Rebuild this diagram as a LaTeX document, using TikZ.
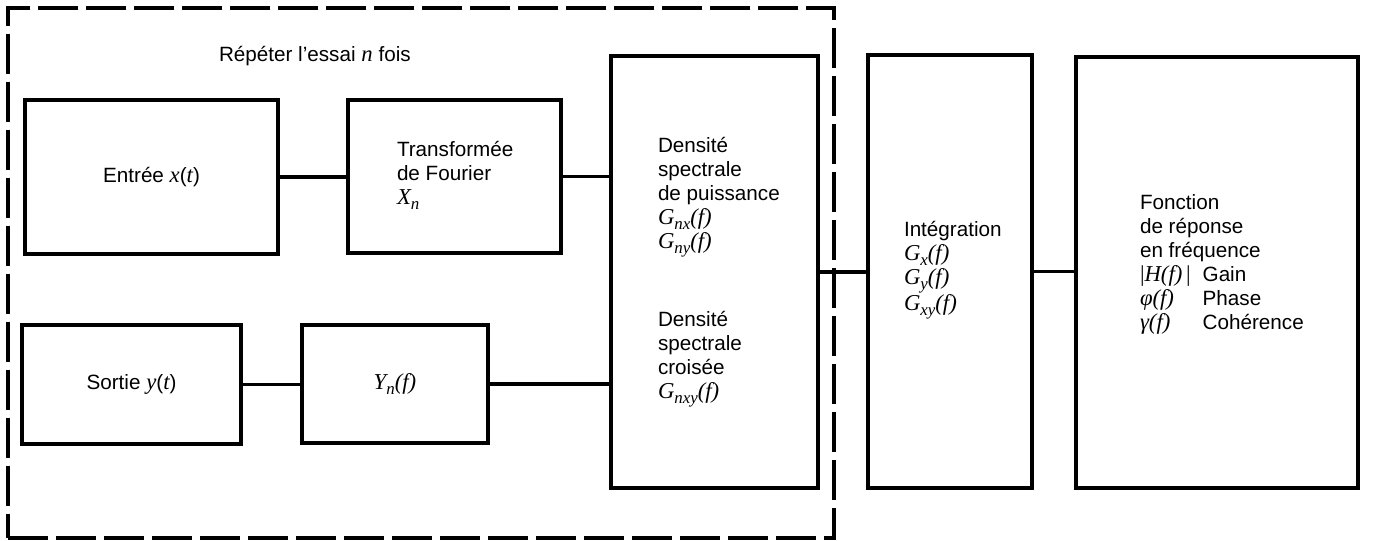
\documentclass[tikz,border=0pt]{standalone}
\usepackage{fontspec}
\setmainfont{Liberation Sans}
\newfontfamily\tms[Scale=1.1]{Liberation Serif}
\newcommand\iv[1]{{\tms\itshape #1}}
\newcommand\sbs[1]{\raisebox{-0.45ex}{\fontsize{11.5}{11.5}\selectfont\tms\itshape #1}}
\newcommand\ml[1]{\begin{tabular}[t]{@{}l@{}}#1\end{tabular}}
\begin{document}
\begin{tikzpicture}[x=0.75pt,y=-0.75pt,
  box/.style={draw, line width=2.6pt, inner sep=0pt, outer sep=0pt},
  loopbox/.style={draw, line width=2.6pt, dash pattern=on 30pt off 6pt, inner sep=0pt, outer sep=0pt},
  lbl/.style={inner sep=0pt, outer sep=0pt, anchor=base west},
  link/.style={line width=2.6pt},
  every node/.style={font=\fontsize{15.5}{18}\selectfont}]
\useasboundingbox (0,0) rectangle (1390,541);
% dashed repeat frame
\node[loopbox, minimum width=619.5pt, minimum height=397.5pt] (loop) at (421,273) {};
\node[lbl] (rep) at (219,62) {Répéter l’essai \iv{n} fois};
% boxes
\node[box, minimum width=189.75pt, minimum height=115.5pt] (entree) at (151.5,177) {Entrée \iv{x}(\iv{t})};
\node[box, minimum width=159.75pt, minimum height=114.75pt] (tf) at (454.5,176.5) {};
\node[box, minimum width=164.25pt, minimum height=89.25pt] (sortie) at (131.5,384.5) {Sortie \iv{y}(\iv{t})};
\node[box, minimum width=139.5pt, minimum height=88.5pt] (yn) at (395,384) {\iv{Y}\sbs{n}\iv{(f)}};
\node[box, minimum width=155.25pt, minimum height=324pt] (dens) at (714.5,272) {};
\node[box, minimum width=123pt, minimum height=324.75pt] (integ) at (950,271.5) {};
\node[box, minimum width=211.5pt, minimum height=323.25pt] (fonc) at (1217,272.5) {};
% texts inside boxes
\node[lbl] (tftxt) at (397,157) {\ml{Transformée\\de Fourier\\\iv{X}\sbs{n}}};
\node[lbl] (psd) at (658,153) {\ml{Densité\\spectrale\\de puissance\\\iv{G}\sbs{nx}\iv{(f)}\\\iv{G}\sbs{ny}\iv{(f)}}};
\node[lbl] (csd) at (658,327) {\ml{Densité\\spectrale\\croisée\\\iv{G}\sbs{nxy}\iv{(f)}}};
\node[lbl] (integtxt) at (904,237) {\ml{Intégration\\\iv{G}\sbs{x}\iv{(f)}\\\iv{G}\sbs{y}\iv{(f)}\\\iv{G}\sbs{xy}\iv{(f)}}};
\node[lbl] (fonctxt) at (1140,210) {\ml{Fonction\\de réponse\\en fréquence\\
  \makebox[47pt][l]{{\tms|}\iv{H(f)}{\tms\,|}}Gain\\
  \makebox[47pt][l]{\iv{φ(f)}}Phase\\
  \makebox[47pt][l]{\iv{γ(f)}}Cohérence}};
% connectors
\draw[link] (entree.east) -- (entree.east -| tf.west);
\draw[link] (sortie.east) -- (sortie.east -| yn.west);
\draw[link] (tf.east) -- (tf.east -| dens.west);
\draw[link] (yn.east) -- (yn.east -| dens.west);
\draw[link] (dens.east) -- (dens.east -| integ.west);
\draw[link] (integ.east) -- (integ.east -| fonc.west);
\end{tikzpicture}
\end{document}
